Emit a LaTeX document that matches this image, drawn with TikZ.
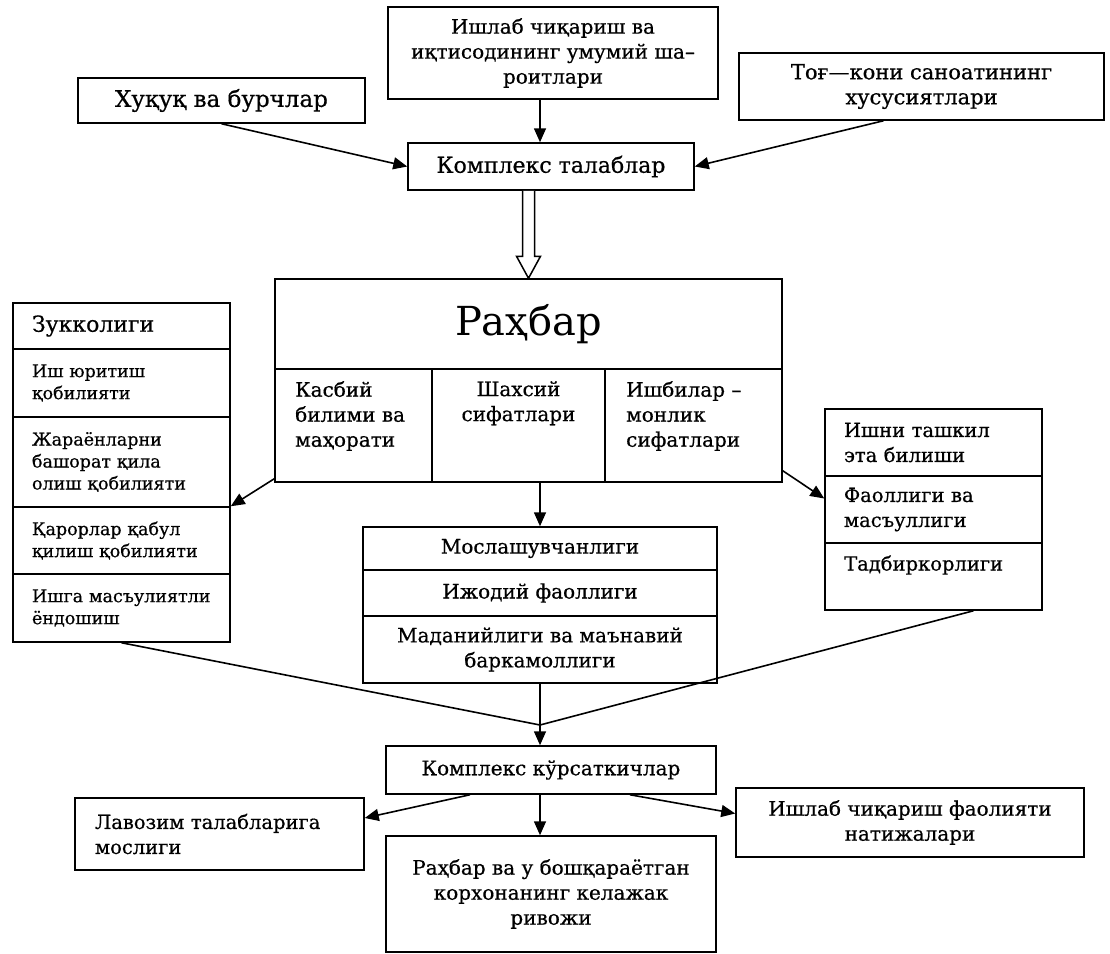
\documentclass[tikz,border=0pt]{standalone}
\usepackage{fontspec}
\setmainfont{DejaVu Serif}[FakeBold=0.6]
\newfontfamily\plainserif{DejaVu Serif}
\usetikzlibrary{arrows.meta,calc}
\tikzset{
  box/.style={draw, line width=1.5pt, inner sep=0pt, font=\fontsize{20}{25}\selectfont, align=center},
  lbox/.style={draw, line width=1.5pt, inner sep=0pt, font=\fontsize{17.5}{22}\selectfont, align=left},
  rbox/.style={draw, line width=1.5pt, inner sep=0pt, font=\fontsize{19.5}{25}\selectfont, align=left},
  txt/.style={inner sep=0pt, font=\fontsize{20}{25}\selectfont},
  arr/.style={line width=1.6pt, -{Triangle[length=14pt,width=12pt]}},
  ln/.style={line width=1.6pt}
}
\begin{document}
\begin{tikzpicture}[x=1pt,y=-1pt]
\useasboundingbox (0,0) rectangle (1110,953);
\coordinate (ax) at (540,0);
\coordinate (conv) at (540,725);
% top row
\node[box, minimum width=330pt, minimum height=92pt] (top) at (553,53)
  {\raisebox{-7pt}{\parbox{320pt}{\centering Ишлаб чиқариш ва\\иқтисодининг умумий ша–\\роитлари}}};
\node[box, minimum width=287pt, minimum height=45pt, font=\fontsize{23}{27}\selectfont] (huquq) at (221.5,100.5) {Хуқуқ ва бурчлар};
\node[box, minimum width=365pt, minimum height=67pt, font=\fontsize{21}{25}\selectfont] (tog) at (921.5,86.5) {Тоғ—кони саноатининг\\хусусиятлари};
\node[box, minimum width=286pt, minimum height=47pt, font=\fontsize{22}{26}\selectfont] (kt) at (551,166.5) {Комплекс талаблар};
% Rahbar block
\node[box, minimum width=507pt, minimum height=90pt, font=\plainserif\fontsize{40}{46}\selectfont] (rah) at (528.5,324) {Раҳбар};
\node[box, minimum width=157pt, minimum height=113pt] (kas) at (353.5,425.5) {};
\node[box, minimum width=173pt, minimum height=113pt] (shax) at (518.5,425.5) {};
\node[box, minimum width=177pt, minimum height=113pt] (ish) at (693.5,425.5) {};
\node[txt, anchor=north west, align=left] (kast) at (295,381) {Касбий\\билими ва\\маҳорати};
\node[txt, anchor=north, align=center] (shaxt) at (518.5,381) {Шахсий\\сифатлари};
\node[txt, anchor=north west, align=left] (isht) at (626,381) {Ишбилар –\\монлик\\сифатлари};
% left stack
\node[lbox, minimum width=217pt, minimum height=46pt, text width=179pt, font=\fontsize{22}{25}\selectfont] (l1) at (121.5,326) {Зукколиги};
\node[lbox, minimum width=217pt, minimum height=68pt, text width=179pt] (l2) at (121.5,383) {Иш юритиш\\қобилияти};
\node[lbox, minimum width=217pt, minimum height=90pt, text width=179pt] (l3) at (121.5,462) {Жараёнларни\\башорат қила\\олиш қобилияти};
\node[lbox, minimum width=217pt, minimum height=67pt, text width=179pt] (l4) at (121.5,540.5) {Қарорлар қабул\\қилиш қобилияти};
\node[lbox, minimum width=217pt, minimum height=68pt, text width=179pt] (l5) at (121.5,608) {Ишга масъулиятли\\ёндошиш};
% middle stack
\node[box, minimum width=354pt, minimum height=43pt] (m1) at (540,548.5) {Мослашувчанлиги};
\node[box, minimum width=354pt, minimum height=46pt] (m2) at (540,593) {Ижодий фаоллиги};
\node[box, minimum width=354pt, minimum height=67pt] (m3) at (540,649.5) {Маданийлиги ва маънавий\\баркамоллиги};
% right stack
\node[rbox, minimum width=217pt, minimum height=67pt, text width=179pt] (r1) at (933.5,442.5) {Ишни ташкил\\эта билиши};
\node[rbox, minimum width=217pt, minimum height=67pt, text width=179pt] (r2) at (933.5,509.5) {Фаоллиги ва\\масъуллиги};
\node[rbox, minimum width=217pt, minimum height=67pt] (r3) at (933.5,576.5) {};
\node[txt, anchor=west, font=\fontsize{19.5}{25}\selectfont] (r3t) at (844,565) {Тадбиркорлиги};
% bottom
\node[box, minimum width=330pt, minimum height=48pt] (kk) at (551,770) {Комплекс кўрсаткичлар};
\node[rbox, minimum width=289pt, minimum height=72pt, text width=249pt] (lav) at (219.5,834) {Лавозим талабларига\\мослиги};
\node[box, minimum width=330pt, minimum height=116pt] (rv) at (551,894)
  {\raisebox{7pt}{\parbox{320pt}{\centering Раҳбар ва у бошқараётган\\корхонанинг келажак\\ривожи}}};
\node[box, minimum width=348pt, minimum height=69pt] (ifn) at (910,822.5) {Ишлаб чиқариш фаолияти\\натижалари};
% connectors
\draw[arr] (top.south -| ax) -- (kt.north -| ax);
\draw[arr] (huquq.south) -- (kt.west);
\draw[arr] ([xshift=-38pt]tog.south) -- (kt.east);
% hollow arrow
\path (kt.south -| rah.north) coordinate (hs) (rah.north) coordinate (he);
\draw[line width=1.5pt, fill=white, line join=miter]
  ([xshift=-6pt]hs) -- ([xshift=-6pt,yshift=22pt]he) -- ([xshift=-12pt,yshift=22pt]he) -- (he)
  -- ([xshift=12pt,yshift=22pt]he) -- ([xshift=6pt,yshift=22pt]he) -- ([xshift=6pt]hs);
\draw[arr] ([yshift=4pt]kas.south west) -- (l4.north east);
\draw[arr] (shax.south -| ax) -- (m1.north -| ax);
\draw[arr] ([yshift=12pt]ish.south east) -- ([yshift=11pt]r2.west);
\draw[ln] (l5.south) -- (conv);
\draw[ln] ([xshift=40pt]r3.south) -- (conv);
\draw[arr] (m3.south) -- (kk.north -| ax);
\draw[arr] ([xshift=-81pt]kk.south) -- ([yshift=16pt]lav.east);
\draw[arr] (kk.south -| ax) -- (rv.north -| ax);
\draw[arr] ([xshift=79pt]kk.south) -- ([yshift=9pt]ifn.west);
\end{tikzpicture}
\end{document}
